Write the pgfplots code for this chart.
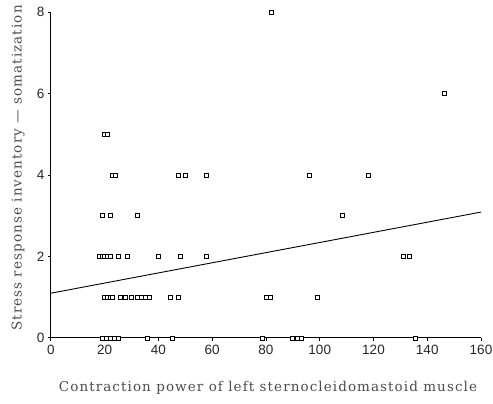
\documentclass[border=0pt]{standalone}
\usepackage{pgfplots}
\pgfplotsset{compat=1.18}
\usepackage{fontspec}
\setmainfont{DejaVu Serif}
\newfontfamily\labfont[LetterSpace=8]{DejaVu Serif}
\newfontfamily\tickfont{Liberation Sans}
\begin{document}
\begin{tikzpicture}
\begin{axis}[
  at={(0pt,0pt)}, anchor=origin,
  scale only axis, width=430pt, height=326pt,
  xmin=0, xmax=160, ymin=0, ymax=8,
  axis lines=left, axis line style={-, line width=1pt},
  xtick={0,20,...,160}, ytick={0,2,...,8},
  tick align=outside, major tick length=3pt,
  tick style={line width=1pt, black},
  /pgf/number format/assume math mode=true,
  tick label style={font=\tickfont\fontsize{13.5}{14}\selectfont, text=black!85},
  xticklabel style={yshift=-1pt},
  xlabel={Contraction power of left sternocleidomastoid muscle},
  ylabel={Stress response inventory — somatization},
  label style={font=\labfont\fontsize{13.5}{14}\selectfont, text=black!70},
  xlabel style={at={(rel axis cs:0.5,0)}, anchor=center, yshift=-50pt, xshift=2pt},
  ylabel style={at={(rel axis cs:0,0.5)}, anchor=center, xshift=7pt, yshift=33pt},
  clip=false,
]
\addplot[only marks, mark=square*, mark size=2pt, mark options={fill=white, draw=black, line width=0.8pt}] coordinates {
(82,8) (146.5,6)
(20,5) (21,5)
(23,4) (24,4) (47.5,4) (50,4) (58,4) (96,4) (118,4)
(19,3) (22,3) (32,3) (108.5,3)
(18,2) (19,2) (20,2) (21,2) (22,2) (25,2) (28.5,2) (40,2) (48,2) (58,2) (131,2) (133.5,2)
(20,1) (21,1) (22,1) (23,1) (26,1) (27.5,1) (30,1) (32,1) (33.5,1) (35,1) (36.5,1) (44.5,1) (47.5,1) (80,1) (81.5,1) (99,1)
(19,0) (20.5,0) (22,0) (23.5,0) (25,0) (36,0) (45,0) (78.5,0) (90,0) (91.5,0) (93,0) (135.5,0)
};
\addplot[black, line width=0.9pt] coordinates {(0,1.1) (160,3.09)};
\end{axis}
\pgfresetboundingbox
\path[use as bounding box] (-51pt,-66pt) rectangle (442pt,338pt);
\end{tikzpicture}
\end{document}
